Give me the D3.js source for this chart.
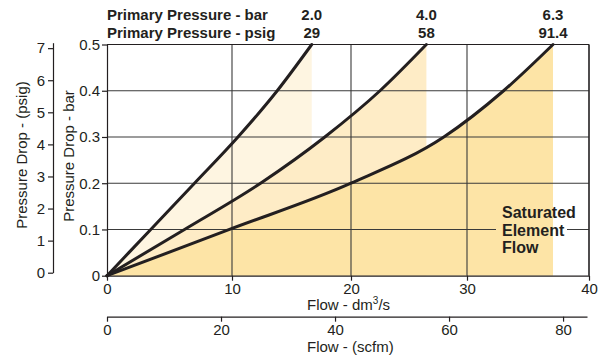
<!DOCTYPE html>
<html><head><meta charset="utf-8">
<script src="https://cdn.jsdelivr.net/npm/d3@7"></script>
<style>
html,body{margin:0;padding:0;background:#fff;}
svg{display:block;font-family:"Liberation Sans",Arial,Helvetica,sans-serif;}
.axis text{font-size:15px;fill:#231f20;}
.axis path,.axis line{stroke:#231f20;stroke-width:1.2;}
</style>
</head><body>
<svg id="chart" width="608" height="360"></svg>
<script>
// ---- data ----
const flowTicks = [0, 10, 20, 30, 40];                 // dm3/s
const scfmTicks = [0, 20, 40, 60, 80];                 // scfm
const barTicks = [0, 0.1, 0.2, 0.3, 0.4, 0.5];
const barTickLabels = ["0", "0.1", "0.2", "0.3", "0.4", "0.5"];
const psigTicks = [0, 1, 2, 3, 4, 5, 6, 7];
const primaryBar = ["2.0", "4.0", "6.3"];
const primaryPsig = ["29", "58", "91.4"];
const dropBar = [0, 0.1, 0.2, 0.3, 0.4, 0.5];
const flow20 = [0, 3.5, 7.0, 10.5, 13.8, 16.7];
const flow40 = [0, 6.2, 12.4, 17.8, 22.5, 26.5];
const flow63 = [0, 9.8, 20.0, 28.0, 33.0, 37.05];
const fillColors = ["#fef5e1", "#feecc6", "#fde4a6"];
const satLabel = ["Saturated", "Element", "Flow"];

// ---- scales ----
const svg = d3.select("#chart");
const x = d3.scaleLinear().domain(flowTicks).range([107, 232, 351, 467, 589]);
const y = d3.scaleLinear().domain([0, 0.5]).range([275.7, 44.5]);
const yPsig = d3.scaleLinear().domain([0, 7.17]).range([272.7, 42.7]);
const xScfm = d3.scaleLinear().domain([0, 84.2]).range([107, 587]);

const curves = [flow20, flow40, flow63].map(f => f.map((v, i) => ({f: v, p: dropBar[i]})));

// ---- fills ----
const area = d3.area().x(d => x(d.f)).y0(y(0)).y1(d => y(d.p)).curve(d3.curveMonotoneX);
svg.append("g").selectAll("path").data(curves).join("path")
  .attr("d", area).attr("fill", (d, i) => fillColors[i]).attr("stroke", "none");

// ---- grid (with gap behind the 'Saturated Element Flow' label) ----
const defs = svg.append("defs");
const mask = defs.append("mask").attr("id", "gridMask");
mask.append("rect").attr("x", 0).attr("y", 0).attr("width", 608).attr("height", 360).attr("fill", "#fff");
mask.append("rect").attr("x", 496).attr("y", y(0.1) - 4).attr("width", 71).attr("height", 8).attr("fill", "#000");

const grid = svg.append("g").attr("mask", "url(#gridMask)").attr("stroke", "#3a3a3a").attr("stroke-width", 1.1);
grid.selectAll("line.h").data(barTicks.filter(d => d > 0)).join("line").attr("class", "h")
  .attr("x1", x(0)).attr("x2", x(40)).attr("y1", d => y(d)).attr("y2", d => y(d));
grid.selectAll("line.v").data(flowTicks.filter(d => d > 0)).join("line").attr("class", "v")
  .attr("x1", d => x(d)).attr("x2", d => x(d)).attr("y1", y(0.5)).attr("y2", y(0));

// ---- curves ----
const line = d3.line().x(d => x(d.f)).y(d => y(d.p)).curve(d3.curveMonotoneX);
svg.append("g").selectAll("path").data(curves).join("path")
  .attr("d", line).attr("fill", "none").attr("stroke", "#231f20")
  .attr("stroke-width", 3).attr("stroke-linecap", "round");

// ---- axes ----
const axX = svg.append("g").attr("class", "axis").attr("transform", `translate(0,${y(0)})`)
  .call(d3.axisBottom(x).tickValues(flowTicks).tickSize(5).tickSizeOuter(0).tickPadding(3));
const axY = svg.append("g").attr("class", "axis").attr("transform", `translate(${x(0)},0)`)
  .call(d3.axisLeft(y).tickValues(barTicks).tickFormat((d, i) => barTickLabels[i]).tickSize(5).tickSizeOuter(0).tickPadding(2));
const axP = svg.append("g").attr("class", "axis").attr("transform", "translate(53,0)")
  .call(d3.axisLeft(yPsig).tickValues(psigTicks).tickSize(5).tickSizeOuter(0).tickPadding(3));
const axS = svg.append("g").attr("class", "axis").attr("transform", "translate(0,316.7)")
  .call(d3.axisBottom(xScfm).tickValues(scfmTicks).tickSize(5).tickSizeOuter(0).tickPadding(3));
[axX, axY, axP, axS].forEach(a => a.attr("font-family", null).attr("font-size", null));

// frame top / right
svg.append("line").attr("x1", x(0)).attr("x2", x(40)).attr("y1", y(0.5)).attr("y2", y(0.5))
  .attr("stroke", "#231f20").attr("stroke-width", 1.2);
svg.append("line").attr("x1", x(40)).attr("x2", x(40)).attr("y1", y(0.5)).attr("y2", y(0))
  .attr("stroke", "#231f20").attr("stroke-width", 1.2);

// ---- axis titles ----
const t1 = svg.append("text").attr("x", 307).attr("y", 310).attr("font-size", 15).attr("fill", "#231f20");
t1.append("tspan").text("Flow - dm");
t1.append("tspan").attr("dy", -6).attr("font-size", 10).text("3");
t1.append("tspan").attr("dy", 6).text("/s");
svg.append("text").attr("x", 307).attr("y", 352).attr("font-size", 15).attr("fill", "#231f20").text("Flow - (scfm)");
svg.append("text").attr("transform", "translate(27,155) rotate(-90)").attr("text-anchor", "middle")
  .attr("font-size", 15).attr("fill", "#231f20").text("Pressure Drop - (psig)");
svg.append("text").attr("transform", "translate(74,156) rotate(-90)").attr("text-anchor", "middle")
  .attr("font-size", 15).attr("fill", "#231f20").text("Pressure Drop - bar");

// ---- header ----
const hdr = svg.append("g").attr("font-weight", "bold").attr("font-size", 15).attr("fill", "#231f20");
hdr.append("text").attr("x", 107).attr("y", 20).text("Primary Pressure - bar");
hdr.append("text").attr("x", 107).attr("y", 38).text("Primary Pressure - psig");
const ends = [flow20, flow40, flow63].map(f => f[f.length - 1]);
hdr.selectAll("text.b").data(primaryBar).join("text").attr("class", "b")
  .attr("x", (d, i) => x(ends[i])).attr("y", 20).attr("text-anchor", "middle").text(d => d);
hdr.selectAll("text.p").data(primaryPsig).join("text").attr("class", "p")
  .attr("x", (d, i) => x(ends[i])).attr("y", 38).attr("text-anchor", "middle").text(d => d);

// ---- saturated label ----
svg.append("g").attr("font-weight", "bold").attr("font-size", 16).attr("fill", "#231f20")
  .selectAll("text").data(satLabel).join("text")
  .attr("x", 502).attr("y", (d, i) => 218 + i * 17.5).text(d => d);
</script>
</body></html>
